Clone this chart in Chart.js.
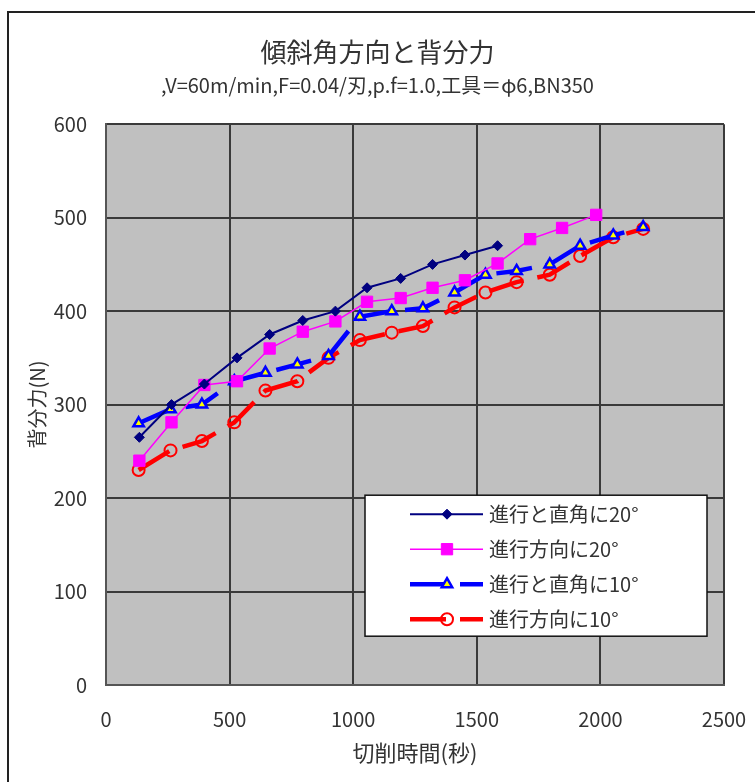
<!DOCTYPE html>
<html>
<head>
<meta charset="utf-8">
<script src="https://cdn.jsdelivr.net/npm/chart.js@4/dist/chart.umd.min.js"></script>
<style>
  body { margin: 0; background: #fff; }
  #wrap { position: relative; width: 755px; height: 782px; overflow: hidden; }
  #frame {
    position: absolute; left: 7px; top: 11px; width: 800px; height: 800px;
    border-left: 2px solid #222; border-top: 2px solid #222;
  }
  canvas { position: absolute; left: 0; top: 0; }
</style>
</head>
<body>
<div id="wrap">
  <div id="frame"></div>
  <canvas id="chart" width="755" height="782"></canvas>
</div>
<script>
// ==============================
// データ
// ==============================
const seriesNames = ["進行と直角に20°", "進行方向に20°", "進行と直角に10°", "進行方向に10°"];

// 20°系の切削時間(秒)
const time20 = [135, 265, 398, 530, 662, 796, 928, 1056, 1192, 1321, 1452, 1584, 1716, 1845, 1983];
// 10°系の切削時間(秒)
const time10 = [132, 261, 388, 519, 645, 774, 900, 1027, 1156, 1282, 1410, 1535, 1661, 1795, 1918, 2052, 2173];

const perp20 = [265, 300, 322, 350, 375, 390, 400, 425, 435, 450, 460, 470];
const feed20 = [240, 281, 321, 325, 360, 378, 389, 410, 414, 425, 433, 451, 477, 489, 503];
const perp10 = [280, 295, 300, 325, 334, 343, 352, 394, 400, 403, 420, 439, 443, 450, 470, 481, 490];
const feed10 = [230, 251, 261, 281, 315, 325, 350, 369, 377, 384, 404, 420, 431, 439, 459, 479, 488];

const xTicks = [0, 500, 1000, 1500, 2000, 2500];
const yTicks = [0, 100, 200, 300, 400, 500, 600];

const FONT = "'Noto Sans CJK JP', 'Liberation Sans', sans-serif";
const TEXT = "#333";

function toPoints(xs, ys) {
  return ys.map((y, i) => ({ x: xs[i], y: y }));
}

// ==============================
// プロット背景
// ==============================
const plotBg = {
  id: "plotBg",
  beforeDraw(chart) {
    const { ctx, chartArea: a } = chart;
    ctx.save();
    ctx.fillStyle = "#c0c0c0";
    ctx.fillRect(a.left, a.top, a.right - a.left, a.bottom - a.top);
    ctx.restore();
  }
};

// ==============================
// 凡例（プロット内に描画）
// ==============================
const boxLegend = {
  id: "boxLegend",
  afterDraw(chart) {
    const { ctx, chartArea: a } = chart;
    const left = a.right - 359, top = a.top + 371, w = 342, h = 141;
    ctx.save();
    ctx.fillStyle = "#fff";
    ctx.fillRect(left, top, w, h);
    ctx.strokeStyle = "#111";
    ctx.lineWidth = 1.5;
    ctx.strokeRect(left, top, w, h);

    chart.data.datasets.forEach((ds, i) => {
      const y = top + 19 + i * 35;
      const x1 = left + 45, x2 = left + 118;
      ctx.save();
      ctx.strokeStyle = ds.borderColor;
      ctx.lineWidth = ds.borderWidth;
      ctx.setLineDash(ds.borderDash || []);
      ctx.beginPath();
      ctx.moveTo(x1, y);
      ctx.lineTo(x2, y);
      ctx.stroke();
      ctx.restore();

      // マーカー
      ctx.save();
      ctx.fillStyle = ds.pointBackgroundColor;
      ctx.strokeStyle = ds.pointBorderColor;
      ctx.lineWidth = ds.pointBorderWidth;
      Chart.helpers.drawPoint(ctx, {
        pointStyle: ds.pointStyle,
        radius: ds.pointRadius,
        borderWidth: ds.pointBorderWidth
      }, left + 82, y);
      ctx.restore();

      ctx.fillStyle = TEXT;
      ctx.font = "20px " + FONT;
      ctx.textBaseline = "middle";
      ctx.fillText(ds.label, left + 124, y);
    });
    ctx.restore();
  }
};

new Chart(document.getElementById("chart"), {
  type: "line",
  data: {
    datasets: [
      {
        label: seriesNames[0],
        data: toPoints(time20, perp20),
        borderColor: "#000080",
        borderWidth: 2,
        pointStyle: "rectRot",
        pointRadius: 5,
        pointBackgroundColor: "#000080",
        pointBorderColor: "#000080",
        pointBorderWidth: 1
      },
      {
        label: seriesNames[1],
        data: toPoints(time20, feed20),
        borderColor: "#ff00ff",
        borderWidth: 1.5,
        pointStyle: "rect",
        pointRadius: 8,
        pointBackgroundColor: "#ff00ff",
        pointBorderColor: "#ff00ff",
        pointBorderWidth: 1
      },
      {
        label: seriesNames[2],
        data: toPoints(time10, perp10),
        borderColor: "#0000ff",
        borderWidth: 4.5,
        borderDash: [36, 14],
        pointStyle: "triangle",
        pointRadius: 6,
        pointBackgroundColor: "#ffff00",
        pointBorderColor: "#0000ff",
        pointBorderWidth: 2.5
      },
      {
        label: seriesNames[3],
        data: toPoints(time10, feed10),
        borderColor: "#ff0000",
        borderWidth: 4.5,
        borderDash: [36, 14],
        pointStyle: "circle",
        pointRadius: 6,
        pointBackgroundColor: "rgba(0,0,0,0)",
        pointBorderColor: "#ff0000",
        pointBorderWidth: 2
      }
    ]
  },
  options: {
    responsive: false,
    animation: false,
    devicePixelRatio: 1,
    layout: { padding: 0 },
    scales: {
      x: {
        type: "linear",
        min: 0,
        max: 2500,
        afterBuildTicks: s => { s.ticks = xTicks.map(v => ({ value: v })); },
        afterFit: s => { s.height = 97; s.paddingLeft = 0; s.paddingRight = 31; },
        ticks: {
          color: TEXT, font: { family: FONT, size: 20 }, padding: 22, maxRotation: 0,
          callback: v => String(v)
        },
        grid: { color: "#3a3a3a", lineWidth: 2, drawTicks: false },
        border: { color: "#555", width: 2 },
        title: {
          display: true,
          text: "切削時間(秒)",
          color: TEXT,
          font: { family: FONT, size: 22 },
          padding: { top: 0, bottom: 16 }
        }
      },
      y: {
        min: 0,
        max: 600,
        afterBuildTicks: s => { s.ticks = yTicks.map(v => ({ value: v })); },
        afterFit: s => { s.width = 106; },
        ticks: {
          color: TEXT, font: { family: FONT, size: 20 }, padding: 19,
          callback: v => String(v)
        },
        grid: { color: "#3a3a3a", lineWidth: 2, drawTicks: false },
        border: { color: "#555", width: 2 },
        title: {
          display: true,
          text: "背分力(N)",
          color: TEXT,
          font: { family: FONT, size: 20 },
          padding: { top: 25, bottom: 0 }
        }
      }
    },
    plugins: {
      legend: { display: false },
      tooltip: { enabled: false },
      title: {
        display: true,
        text: "傾斜角方向と背分力",
        color: TEXT,
        font: { family: FONT, size: 26, weight: "normal" },
        padding: { top: 37, bottom: 5 }
      },
      subtitle: {
        display: true,
        text: ",V=60m/min,F=0.04/刃,p.f=1.0,工具＝φ6,BN350",
        color: TEXT,
        font: { family: FONT, size: 20 },
        padding: { top: 0, bottom: 27 }
      }
    }
  },
  plugins: [plotBg, boxLegend]
});
</script>
</body>
</html>
